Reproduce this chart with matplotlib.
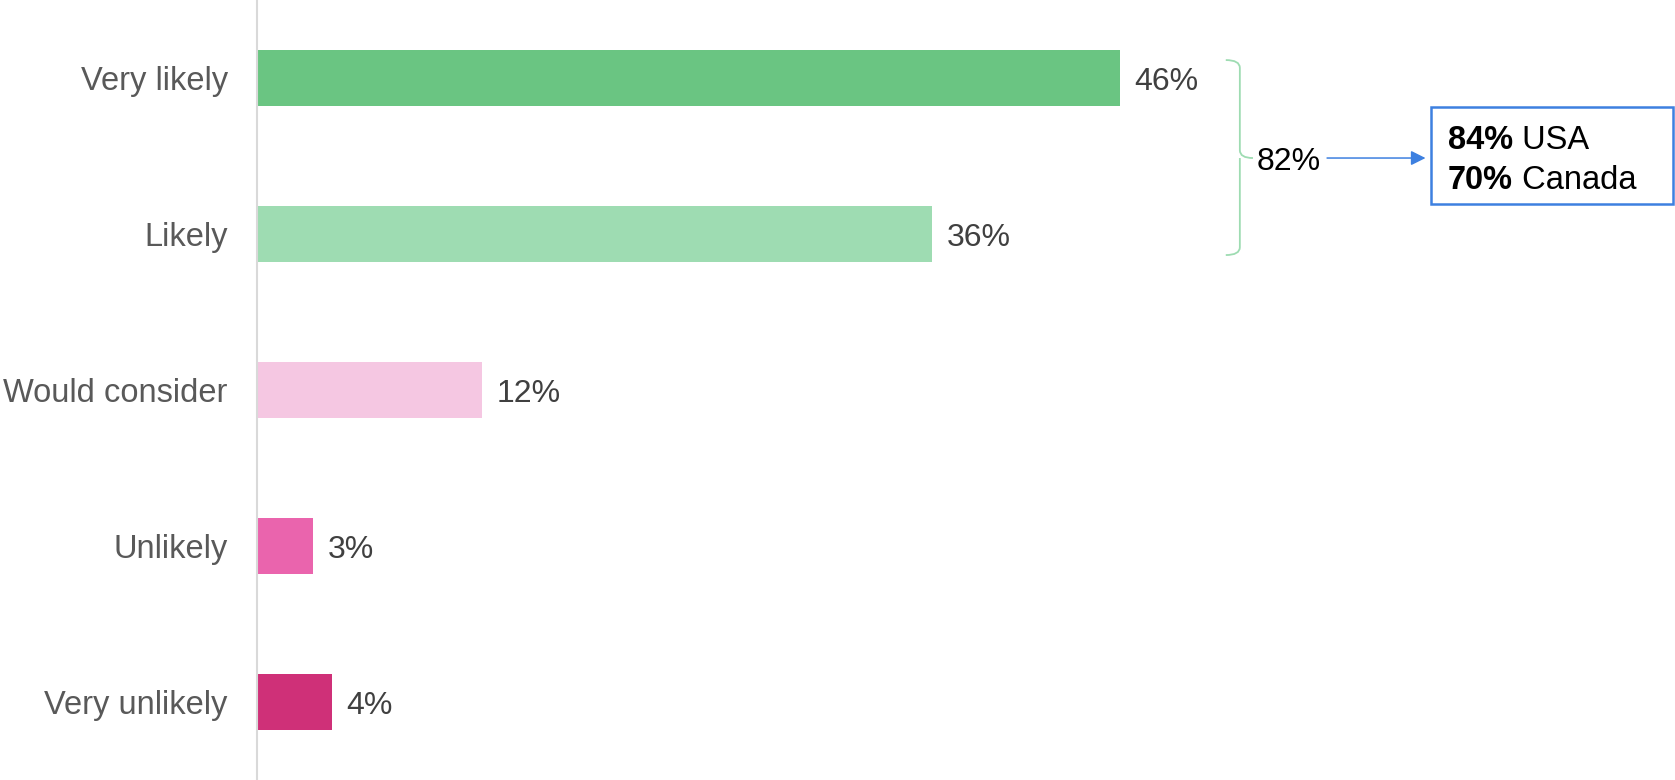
import matplotlib
matplotlib.use("Agg")
import matplotlib.pyplot as plt
from matplotlib.path import Path
from matplotlib.patches import PathPatch, Rectangle

plt.rcParams['font.family'] = ['Liberation Sans', 'DejaVu Sans']

categories = ["Very likely", "Likely", "Would consider", "Unlikely", "Very unlikely"]
values = [46, 36, 12, 3, 4]
colors = ["#6AC582", "#9EDCB2", "#F5C7E2", "#EA64AD", "#CF3078"]
country_values = [84, 70]
countries = ["USA", "Canada"]

fig = plt.figure(figsize=(16.75, 7.8), dpi=100)
ax = fig.add_axes([257 / 1675, 0, 1 - 257 / 1675, 1])

y = list(range(len(categories)))
ax.barh(y, values, height=0.36, color=colors)
ax.set_ylim(4.5, -0.5)
ax.set_xlim(0, 75.6)

ax.set_yticks(y)
ax.set_yticklabels(categories, fontsize=23.5, color="#595959")
ax.tick_params(axis="y", length=0, pad=21)
ax.set_xticks([])
for s in ["top", "right", "bottom"]:
    ax.spines[s].set_visible(False)
ax.spines["left"].set_color("#D9D9D9")
ax.spines["left"].set_linewidth(1.5)

for yi, v in zip(y, values):
    ax.text(v + 0.75, yi, f"{v}%", va="center_baseline", ha="left",
            fontsize=23, color="#404040")

# bracket over the top two bars
top_total = values[0] + values[1]
bx0, bx1, bx2 = 51.65, 52.4, 53.1
by0, by1 = -0.115, 1.135
bym = 0.513
r = 0.05
verts = [
    (bx0, by0), (bx1, by0), (bx1, by0 + r),
    (bx1, bym - r), (bx1, bym), (bx2, bym),
    (bx1, bym), (bx1, bym + r),
    (bx1, by1 - r), (bx1, by1), (bx0, by1),
]
codes = [
    Path.MOVETO, Path.CURVE3, Path.CURVE3,
    Path.LINETO, Path.CURVE3, Path.CURVE3,
    Path.MOVETO, Path.CURVE3,
    Path.LINETO, Path.CURVE3, Path.CURVE3,
]
ax.add_patch(PathPatch(Path(verts, codes), fill=False, edgecolor="#9EDCB2", lw=1.3))
ax.text(53.3, bym, f"{top_total}%", va="center_baseline", ha="left",
        fontsize=23, color="black")

ax.annotate("", xy=(62.3, bym), xytext=(57.05, bym),
            arrowprops=dict(arrowstyle="-|>", color="#3D80E0", lw=1.1,
                            mutation_scale=22, shrinkA=0, shrinkB=0))

ax.add_patch(Rectangle((62.58, 0.186), 75.5 - 62.58, 0.808 - 0.186,
                       fill=False, edgecolor="#3D80E0", lw=1.8))
for yy, v, c in zip([0.38, 0.635], country_values, countries):
    t = ax.text(63.5, yy, f"{v}%", va="center_baseline", ha="left", fontsize=23.5,
                fontweight="bold", color="black")
    ax.annotate(" " + c, xy=(1, 0), xycoords=t, va="bottom", ha="left",
                fontsize=23.5, color="black")

fig.savefig("out.png", dpi=100)
